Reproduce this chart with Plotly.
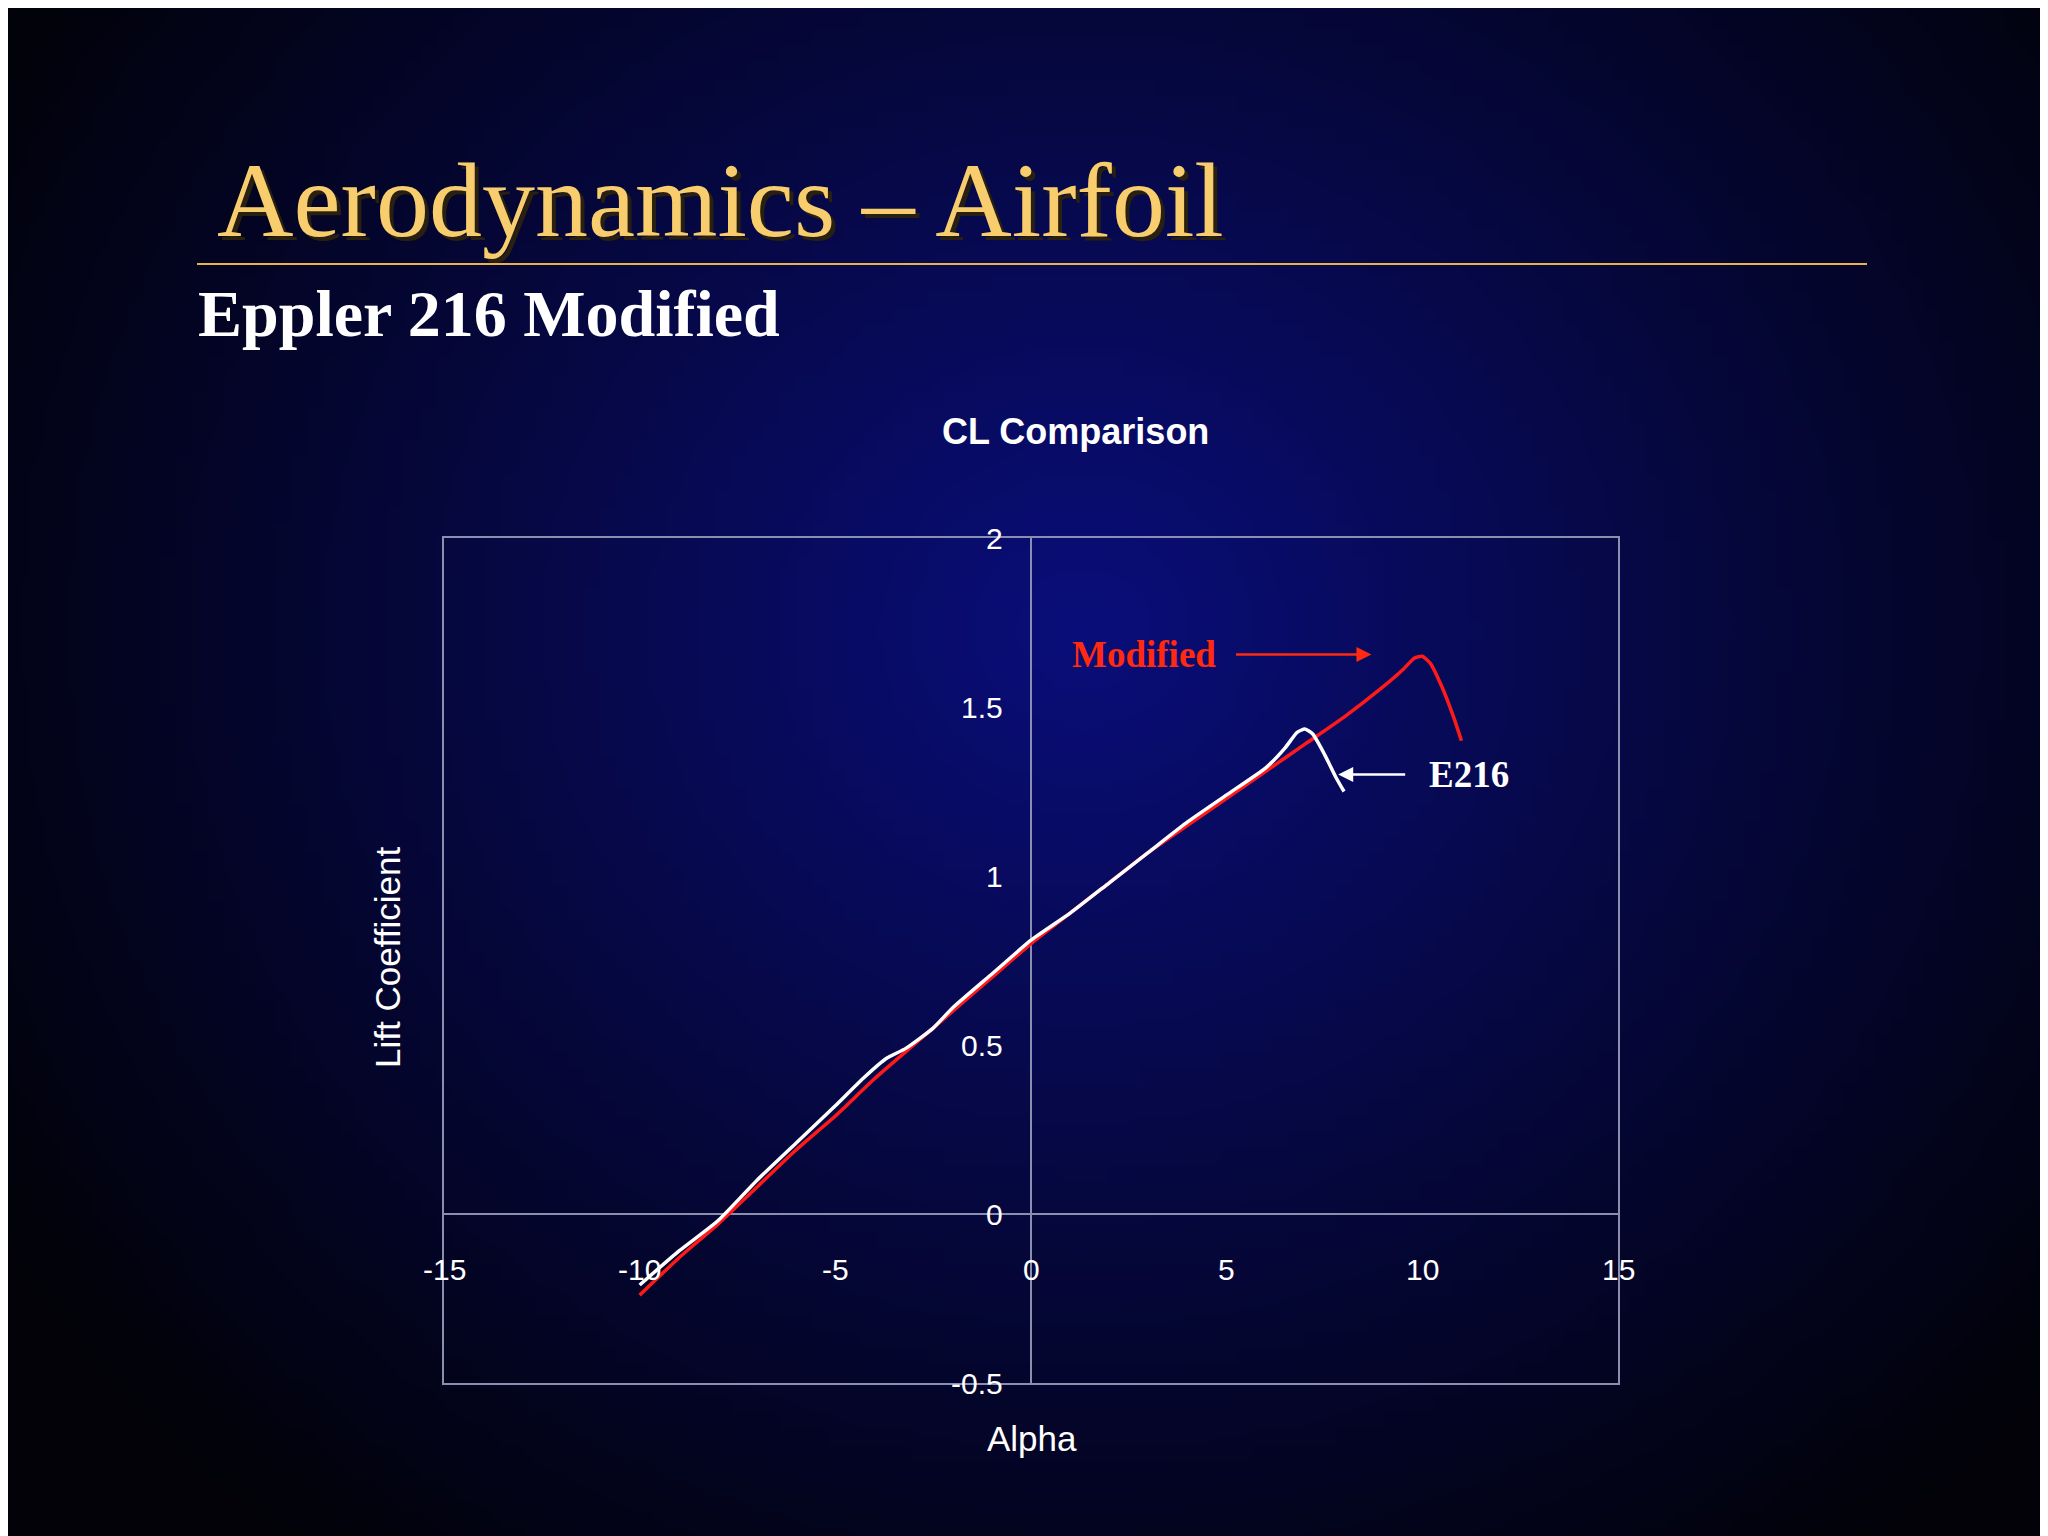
import plotly.graph_objects as go
import zlib, struct, base64, math

alpha_mod = [-10, -9, -8, -7, -6, -5, -4, -3, -2, -1, 0, 1, 2, 3, 4, 5, 6, 7, 8, 9, 9.5, 9.8, 10.0, 10.2, 10.5, 10.8, 11]
cl_mod = [-0.24, -0.13, -0.03, 0.08, 0.19, 0.29, 0.40, 0.50, 0.60, 0.70, 0.80, 0.89, 0.98, 1.07, 1.15, 1.23, 1.31, 1.39, 1.47, 1.56, 1.61, 1.645, 1.65, 1.63, 1.56, 1.47, 1.40]
alpha_e = [-10, -9, -8, -7, -6, -5, -4.3, -3.7, -3.2, -2.5, -2, -1, 0, 1, 2, 3, 4, 5, 6, 6.5, 6.8, 7.0, 7.2, 7.5, 7.8, 8]
cl_e = [-0.21, -0.11, -0.02, 0.10, 0.21, 0.32, 0.40, 0.46, 0.49, 0.55, 0.61, 0.71, 0.81, 0.89, 0.98, 1.07, 1.16, 1.24, 1.32, 1.38, 1.425, 1.435, 1.42, 1.36, 1.29, 1.25]
x_ticks = [-15, -10, -5, 0, 5, 10, 15]
y_ticks = [-0.5, 0, 0.5, 1, 1.5, 2]

# background gradient PNG
W, H = 128, 96
rows = []
for j in range(H):
    row = bytearray([0])
    for i in range(W):
        dx = (i / W - 0.52) / 0.62
        dy = (j / H - 0.40) / 0.75
        d = min(1.0, math.sqrt(dx * dx + dy * dy))
        t = max(0.0, 1 - d) ** 1.1
        row += bytes([int(2 + 8 * t), int(2 + 12 * t), int(8 + 115 * t)])
    rows.append(bytes(row))
raw = b"".join(rows)
def chunk(tag, data):
    c = struct.pack(">I", len(data)) + tag + data
    return c + struct.pack(">I", zlib.crc32(tag + data) & 0xffffffff)
png = b"\x89PNG\r\n\x1a\n" + chunk(b"IHDR", struct.pack(">IIBBBBB", W, H, 8, 2, 0, 0, 0)) + chunk(b"IDAT", zlib.compress(raw)) + chunk(b"IEND", b"")
uri = "data:image/png;base64," + base64.b64encode(png).decode()

fig = go.Figure()
fig.add_trace(go.Scatter(x=alpha_mod, y=cl_mod, mode="lines", line=dict(color="#ff1a1a", width=3.5, shape="spline", smoothing=0.5), showlegend=False))
fig.add_trace(go.Scatter(x=alpha_e, y=cl_e, mode="lines", line=dict(color="white", width=3.5, shape="spline", smoothing=0.5), showlegend=False))

L, T, PW, PH = 436, 530, 1174, 845
def px(x): return (x - L) / PW
def py(y): return (T + PH - y) / PH

fig.add_layout_image(dict(source=uri, xref="paper", yref="paper", x=px(-20), y=py(-20),
                          sizex=2090 / PW, sizey=1580 / PH, sizing="stretch", layer="below"))

ann = []
for v in x_ticks:
    ann.append(dict(x=v, y=0, xref="x", yref="y", text=str(v), showarrow=False, yshift=-55,
                    font=dict(color="white", size=30, family="Liberation Sans")))
for v in y_ticks:
    ann.append(dict(x=0, y=v, xref="x", yref="y", text=str(v), showarrow=False, xanchor="right", xshift=-26,
                    font=dict(color="white", size=30, family="Liberation Sans")))
def P(x, y, text, font, xanchor="center", **kw):
    return dict(x=px(x), y=py(y), xref="paper", yref="paper", text=text, showarrow=False,
                xanchor=xanchor, yanchor="middle", font=font, **kw)
ann += [
    dict(x=2.9, y=1.655, xref="x", yref="y", text="<b>Modified</b>", showarrow=False, font=dict(color="#ff2a10", size=37, family="Liberation Serif")),
    dict(x=8.7, y=1.655, ax=5.2, ay=1.655, xref="x", yref="y", axref="x", ayref="y", text="", showarrow=True, arrowhead=2, arrowsize=1.2, arrowwidth=2.5, arrowcolor="#ff2a10"),
    dict(x=11.2, y=1.30, xref="x", yref="y", text="<b>E216</b>", showarrow=False, font=dict(color="white", size=37, family="Liberation Serif")),
    dict(x=7.85, y=1.30, ax=9.6, ay=1.30, xref="x", yref="y", axref="x", ayref="y", text="", showarrow=True, arrowhead=2, arrowsize=1.2, arrowwidth=2.5, arrowcolor="white"),
    P(207, 192, "Aerodynamics – Airfoil", dict(color="#2a2010", size=106, family="Liberation Serif"), "left", xshift=4, yshift=-4),
    P(207, 192, "Aerodynamics – Airfoil", dict(color="#f7cd6e", size=106, family="Liberation Serif"), "left"),
    P(188, 306, "<b>Eppler 216 Modified</b>", dict(color="white", size=66, family="Liberation Serif"), "left"),
    P(1067, 423, "<b>CL Comparison</b>", dict(color="white", size=36, family="Liberation Sans")),
    P(379, 950, "Lift Coefficient", dict(color="white", size=35, family="Liberation Sans"), textangle=-90),
    P(1024, 1430, "Alpha", dict(color="white", size=35, family="Liberation Sans")),
]

fig.update_layout(
    width=2048, height=1536,
    margin=dict(l=436, r=438, t=530, b=161),
    paper_bgcolor="#000000", plot_bgcolor="rgba(0,0,0,0)",
    annotations=ann,
    shapes=[dict(type="line", xref="paper", yref="paper", x0=px(189), x1=px(1859), y0=py(256), y1=py(256),
                 line=dict(color="#e8b44a", width=2))],
    xaxis=dict(range=[-15, 15], showgrid=False, showticklabels=False, zeroline=True, zerolinecolor="#8a8fb0", zerolinewidth=1.5,
               showline=True, mirror=True, linecolor="#8a8fb0", linewidth=1.5, ticks=""),
    yaxis=dict(range=[-0.5, 2], showgrid=False, showticklabels=False, zeroline=True, zerolinecolor="#8a8fb0", zerolinewidth=1.5,
               showline=True, mirror=True, linecolor="#8a8fb0", linewidth=1.5, ticks=""),
)
fig.write_html("out.html")
